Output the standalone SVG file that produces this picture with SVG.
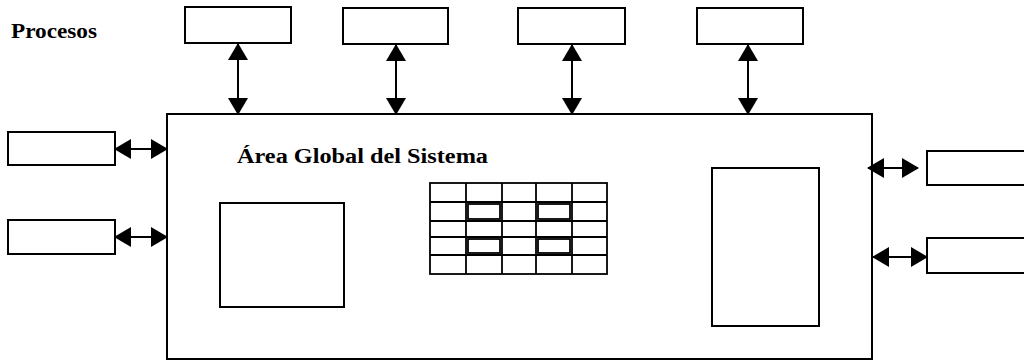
<svg xmlns="http://www.w3.org/2000/svg" width="1024" height="362" viewBox="0 0 1024 362">
<style>
.box{fill:#fff;stroke:#000;stroke-width:2}
.cell{fill:none;stroke:#000;stroke-width:1.8}
.conn{stroke:#000;stroke-width:2;fill:none;marker-start:url(#ah);marker-end:url(#ah)}
.lbl{font-family:"Liberation Serif","Times New Roman",serif;font-weight:bold;fill:#000}
</style>
<defs>
<marker id="ah" viewBox="0 0 17 20" refX="16" refY="10" markerWidth="17" markerHeight="20" markerUnits="userSpaceOnUse" orient="auto-start-reverse">
<path d="M0,0 L17,10 L0,20 z" fill="#000"/>
</marker>
</defs>
<rect width="1024" height="362" fill="#fff"/>
<text class="lbl" x="11" y="38" font-size="21" textLength="86" lengthAdjust="spacingAndGlyphs">Procesos</text>
<g id="main">
<rect class="box" x="167" y="114" width="705" height="245"/>
<text class="lbl" x="237" y="163" font-size="20" textLength="251" lengthAdjust="spacingAndGlyphs">Área Global del Sistema</text>
</g>
<g id="p1"><rect class="box" x="185" y="7" width="106" height="36"/></g>
<g id="p2"><rect class="box" x="343" y="8" width="105" height="36"/></g>
<g id="p3"><rect class="box" x="518" y="8" width="107" height="36"/></g>
<g id="p4"><rect class="box" x="697" y="8" width="106" height="36"/></g>
<g id="l1"><rect class="box" x="8" y="132" width="107" height="33"/></g>
<g id="l2"><rect class="box" x="8" y="220" width="107" height="34"/></g>
<g id="r1"><rect class="box" x="927" y="151" width="100" height="34"/></g>
<g id="r2"><rect class="box" x="927" y="238" width="100" height="35"/></g>
<g id="square"><rect class="box" x="220" y="203" width="124" height="104"/></g>
<g id="tall"><rect class="box" x="712" y="168" width="107" height="158"/></g>
<g id="grid">
<rect class="cell" x="430" y="183" width="177" height="91" stroke-width="2.2"/>
<path class="cell" d="M430,202H607M430,221H607M430,237H607M430,255H607
M466,183V202M502,183V202M536,183V202M572,183V202
M466,221V237M502,221V237M536,221V237M572,221V237
M466,255V274M502,255V274M536,255V274M572,255V274
M466,202V221M502,202V221M536,202V221M572,202V221
M466,237V255M502,237V255M536,237V255M572,237V255"/>
<rect class="cell" x="468" y="204" width="32" height="15" stroke-width="1.4"/>
<rect class="cell" x="538" y="204" width="32" height="15" stroke-width="1.4"/>
<rect class="cell" x="468" y="239" width="32" height="14" stroke-width="1.4"/>
<rect class="cell" x="538" y="239" width="32" height="14" stroke-width="1.4"/>
</g>
<g id="connectors">
<line class="conn" x1="238" y1="44" x2="238" y2="114"/>
<line class="conn" x1="396" y1="45" x2="396" y2="114"/>
<line class="conn" x1="572" y1="45" x2="572" y2="114"/>
<line class="conn" x1="748" y1="45" x2="748" y2="114"/>
<line class="conn" x1="115" y1="149" x2="167" y2="149"/>
<line class="conn" x1="115" y1="237" x2="167" y2="237"/>
<line class="conn" x1="868" y1="168" x2="918" y2="168"/>
<line class="conn" x1="873" y1="257" x2="927" y2="257"/>
</g>
</svg>
